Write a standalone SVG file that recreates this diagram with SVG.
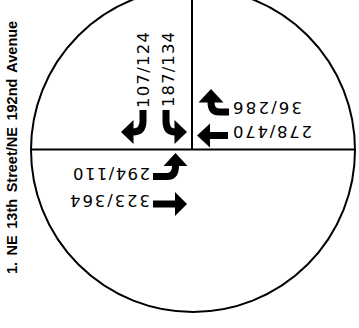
<svg xmlns="http://www.w3.org/2000/svg" width="359" height="328" viewBox="0 0 359 328">
<style>
.ln{fill:none;stroke:#000;stroke-width:2}
.sh{fill:none;stroke:#000;stroke-width:7;stroke-linecap:butt}
.hd{fill:#000;stroke:none}
.vol{font-family:"DejaVu Sans","Liberation Sans",sans-serif;font-size:16.5px;fill:#000}
.ttl{font-family:"Liberation Sans",Arial,sans-serif;font-size:14.5px;font-weight:bold;word-spacing:2.5px;fill:#000}
</style>
<rect width="359" height="328" fill="#fff"/>
<g id="intersection">
<circle class="ln" cx="193" cy="150" r="162"/>
<line class="ln" x1="192" y1="0" x2="192" y2="150"/>
<line class="ln" x1="31" y1="149.5" x2="355" y2="149.5"/>
</g>
<g id="title">
<text class="ttl" transform="translate(17,274) rotate(-90)">1. NE 13th Street/NE 192nd Avenue</text>
</g>
<g id="connectors">
<g id="sb-left"><path class="sh" d="M143,110 V121 Q143,132 133,132"/><polygon class="hd" points="121,132 133.5,120 133.5,144"/></g>
<g id="sb-right"><path class="sh" d="M166,110 V121 Q166,132 175,132"/><polygon class="hd" points="187,132 174.5,120 174.5,144"/></g>
<g id="wb-right"><path class="sh" d="M229,112 H219 Q211,112 211,102"/><polygon class="hd" points="211,89 198.5,102.5 223.5,102.5"/></g>
<g id="wb-thru"><path class="sh" d="M228,135.5 H209"/><polygon class="hd" points="197,135.5 210,123.5 210,147.5"/></g>
<g id="eb-left"><path class="sh" d="M153,176.5 H167 Q175.5,176.5 175.5,166"/><polygon class="hd" points="175.5,153 163.5,166 187.5,166"/></g>
<g id="eb-thru"><path class="sh" d="M153,204 H176"/><polygon class="hd" points="187,204 175,192 175,216"/></g>
</g>
<g id="labels">
<text class="vol" transform="translate(149,108) rotate(-90)" textLength="76" lengthAdjust="spacing">107/124</text>
<text class="vol" transform="translate(174,107) rotate(-90)" textLength="75" lengthAdjust="spacing">187/134</text>
<text class="vol" transform="translate(302,102) rotate(180)" textLength="69" lengthAdjust="spacing">36/286</text>
<text class="vol" transform="translate(312,126) rotate(180)" textLength="79" lengthAdjust="spacing">278/470</text>
<text class="vol" transform="translate(150,168) rotate(180)" textLength="77" lengthAdjust="spacing">294/110</text>
<text class="vol" transform="translate(150,195) rotate(180)" textLength="80" lengthAdjust="spacing">323/364</text>
</g>
</svg>
